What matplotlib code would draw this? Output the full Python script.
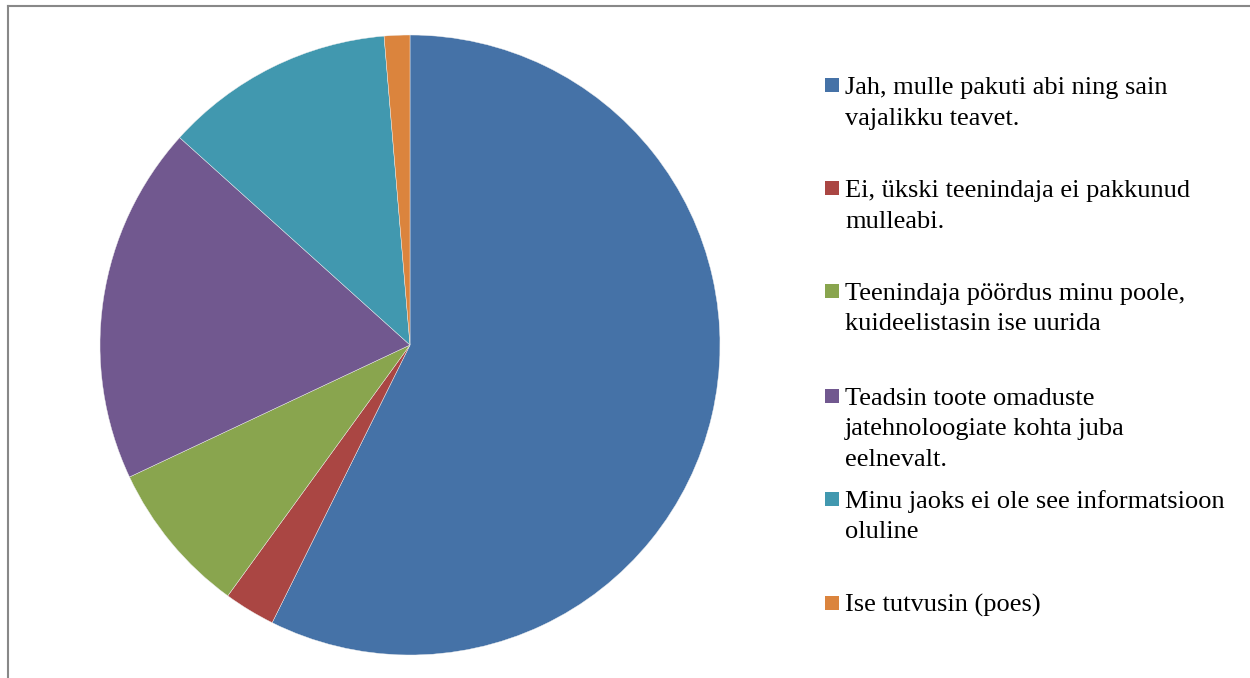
import matplotlib
matplotlib.use("Agg")
import matplotlib.pyplot as plt
from matplotlib.patches import Rectangle
from matplotlib.lines import Line2D

# vastuste arv (loetud jooniselt, kokku 75)
labels = [
    "Jah, mulle pakuti abi ning sain\nvajalikku teavet.",
    "Ei, ükski teenindaja ei pakkunud\nmulleabi.",
    "Teenindaja pöördus minu poole,\nkuideelistasin ise uurida",
    "Teadsin toote omaduste\njatehnoloogiate kohta juba\neelnevalt.",
    "Minu jaoks ei ole see informatsioon\noluline",
    "Ise tutvusin (poes)",
]
counts = [43, 2, 6, 14, 9, 1]
colors = ["#4572A7", "#AA4643", "#89A54E", "#71588F", "#4198AF", "#DB843D"]
legend_baselines = [94, 197, 300, 405, 508, 612]  # px from top

W, H = 1250, 678
fig = plt.figure(figsize=(W / 100, H / 100), dpi=100)
fig.patch.set_facecolor("white")

ax = fig.add_axes([100 / W, 1 - 655 / H, 620 / W, 620 / H])
ax.pie(counts, colors=colors, startangle=90, counterclock=False,
       wedgeprops=dict(edgecolor="#f0f0f0", linewidth=0.3))
ax.set_xlim(-1, 1)
ax.set_ylim(-1, 1)
ax.set_aspect("equal")
ax.axis("off")

# legend drawn by hand (Excel-like spacing)
line_h = 30.5
for lab, col, base in zip(labels, colors, legend_baselines):
    fig.patches.append(Rectangle((825 / W, 1 - (base - 2) / H), 14 / W, 14 / H,
                                 transform=fig.transFigure, facecolor=col,
                                 edgecolor="none"))
    for i, line in enumerate(lab.split("\n")):
        fig.text(845 / W, 1 - (base + i * line_h) / H, line,
                 fontsize=19, family="Liberation Serif", color="black",
                 ha="left", va="baseline")

# grey frame (only top and left visible)
fig.lines.append(Line2D([7.5 / W, 1.0], [1 - 5.5 / H, 1 - 5.5 / H],
                        transform=fig.transFigure, color="#888888", linewidth=1.5))
fig.lines.append(Line2D([7.5 / W, 7.5 / W], [0, 1 - 5.5 / H],
                        transform=fig.transFigure, color="#888888", linewidth=1.5))

fig.savefig("out.png", dpi=100)
